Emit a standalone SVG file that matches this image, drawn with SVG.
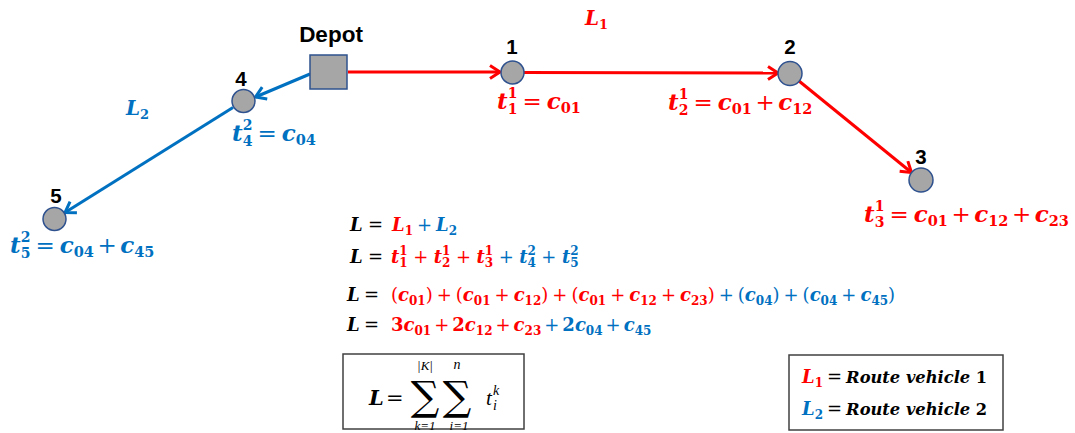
<svg xmlns="http://www.w3.org/2000/svg" width="1075" height="433" viewBox="0 0 1075 433">
<defs>
<style>
.m{font-family:"DejaVu Serif",serif;font-weight:bold;font-style:italic}
.n{font-style:normal}
.o{font-style:normal;font-weight:normal}
.r{fill:#ff0000}
.b{fill:#0070c0}
.k{fill:#000}
.lbl{font-family:"Liberation Sans",Arial,sans-serif;font-weight:bold;fill:#000;text-anchor:middle}
.nd{fill:#a6a6a6;stroke:#2f528f;stroke-width:1.5}
.er{stroke:#ff0000;stroke-width:3;fill:none}
.eb{stroke:#0070c0;stroke-width:3;fill:none}
.box{fill:#fff;stroke:#404040;stroke-width:1.5}
.lim{font-family:"Liberation Serif",serif;font-style:italic;fill:#000}
.sig{font-family:"DejaVu Serif","DejaVu Sans",serif;fill:#000;text-anchor:middle}
</style>
<marker id="ar" markerUnits="userSpaceOnUse" markerWidth="16" markerHeight="16" refX="13" refY="8" orient="auto"><path d="M3,1.5 L13,8 L3,14.5" fill="none" stroke="#ff0000" stroke-width="3"/></marker>
<marker id="ab" markerUnits="userSpaceOnUse" markerWidth="16" markerHeight="16" refX="13" refY="8" orient="auto"><path d="M3,1.5 L13,8 L3,14.5" fill="none" stroke="#0070c0" stroke-width="3"/></marker>
</defs>
<rect width="1075" height="433" fill="#fff"/>

<g id="connectors">
<line class="er" x1="348" y1="72" x2="500" y2="72" marker-end="url(#ar)"/>
<line class="er" x1="524" y1="72.5" x2="778" y2="73" marker-end="url(#ar)"/>
<line class="er" x1="799" y1="81" x2="911.5" y2="172.5" marker-end="url(#ar)"/>
<line class="eb" x1="310" y1="74" x2="255.5" y2="97" marker-end="url(#ab)"/>
<line class="eb" x1="233" y1="107.5" x2="65" y2="212.5" marker-end="url(#ab)"/>
</g>

<g id="labels-routes">
<text class="m r" font-size="20" x="585" y="25">L<tspan class="n" font-size="13" dy="4">1</tspan></text>
<text class="m b" font-size="20" x="126" y="115">L<tspan class="n" font-size="13" dy="4">2</tspan></text>
</g>

<g id="depot">
<rect x="310" y="55" width="37" height="34" class="nd"/>
<text class="lbl" font-size="22.5" x="331" y="42">Depot</text>
</g>

<g id="node1">
<circle cx="512.5" cy="72.5" r="11.5" class="nd"/>
<text class="lbl" font-size="20.5" x="512" y="54">1</text>
<text class="m r" font-size="23" x="497" y="109">t<tspan class="n" font-size="14" dy="4.5">1</tspan><tspan class="n" font-size="14" dx="-9.7" dy="-16">1</tspan><tspan class="o" dx="5" dy="11.5">=</tspan><tspan dx="5">c</tspan><tspan class="n" font-size="14.5" dy="4">01</tspan></text>
</g>

<g id="node2">
<circle cx="790" cy="73.5" r="12" class="nd"/>
<text class="lbl" font-size="20.5" x="790" y="54">2</text>
<text class="m r" font-size="23" x="668" y="110">t<tspan class="n" font-size="14" dy="4.5">2</tspan><tspan class="n" font-size="14" dx="-9.7" dy="-16">1</tspan><tspan class="o" dx="5" dy="11.5">=</tspan><tspan dx="5">c</tspan><tspan class="n" font-size="14.5" dy="4">01</tspan><tspan class="o" dx="3.5" dy="-4">+</tspan><tspan dx="3.5">c</tspan><tspan class="n" font-size="14.5" dy="4">12</tspan></text>
</g>

<g id="node3">
<circle cx="921" cy="180" r="12" class="nd"/>
<text class="lbl" font-size="20.5" x="921" y="164">3</text>
<text class="m r" font-size="23" x="864" y="222">t<tspan class="n" font-size="14" dy="4.5">3</tspan><tspan class="n" font-size="14" dx="-9.7" dy="-16">1</tspan><tspan class="o" dx="5" dy="11.5">=</tspan><tspan dx="5">c</tspan><tspan class="n" font-size="14.5" dy="4">01</tspan><tspan class="o" dx="3.5" dy="-4">+</tspan><tspan dx="3.5">c</tspan><tspan class="n" font-size="14.5" dy="4">12</tspan><tspan class="o" dx="3.5" dy="-4">+</tspan><tspan dx="3.5">c</tspan><tspan class="n" font-size="14.5" dy="4">23</tspan></text>
</g>

<g id="node4">
<circle cx="243.5" cy="101" r="11.5" class="nd"/>
<text class="lbl" font-size="20.5" x="241" y="86">4</text>
<text class="m b" font-size="23" x="232" y="141">t<tspan class="n" font-size="14" dy="4.5">4</tspan><tspan class="n" font-size="14" dx="-9.7" dy="-16">2</tspan><tspan class="o" dx="5" dy="11.5">=</tspan><tspan dx="5">c</tspan><tspan class="n" font-size="14.5" dy="4">04</tspan></text>
</g>

<g id="node5">
<circle cx="54.5" cy="219" r="11.5" class="nd"/>
<text class="lbl" font-size="20.5" x="56" y="203">5</text>
<text class="m b" font-size="23" x="10" y="253">t<tspan class="n" font-size="14" dy="4.5">5</tspan><tspan class="n" font-size="14" dx="-9.7" dy="-16">2</tspan><tspan class="o" dx="5" dy="11.5">=</tspan><tspan dx="5">c</tspan><tspan class="n" font-size="14.5" dy="4">04</tspan><tspan class="o" dx="3.5" dy="-4">+</tspan><tspan dx="3.5">c</tspan><tspan class="n" font-size="14.5" dy="4">45</tspan></text>
</g>

<g id="equations">
<text class="m" font-size="18" y="231"><tspan class="k" x="350">L</tspan><tspan class="o k" x="368">=</tspan><tspan class="r" x="392">L</tspan><tspan class="n r" font-size="12" dy="4">1</tspan><tspan class="o b" dx="4" dy="-4">+</tspan><tspan class="b" dx="4">L</tspan><tspan class="n b" font-size="12" dy="4">2</tspan></text>
<text class="m" font-size="18" y="263"><tspan class="k" x="350">L</tspan><tspan class="o k" x="368">=</tspan><tspan class="r" x="391">t</tspan><tspan class="n r" font-size="12" dy="4">1</tspan><tspan class="n r" font-size="12" dx="-8.4" dy="-12">1</tspan><tspan class="o r" dx="5.5" dy="8">+</tspan><tspan class="r" dx="5.5">t</tspan><tspan class="n r" font-size="12" dy="4">2</tspan><tspan class="n r" font-size="12" dx="-8.4" dy="-12">1</tspan><tspan class="o r" dx="5.5" dy="8">+</tspan><tspan class="r" dx="5.5">t</tspan><tspan class="n r" font-size="12" dy="4">3</tspan><tspan class="n r" font-size="12" dx="-8.4" dy="-12">1</tspan><tspan class="o b" dx="5.5" dy="8">+</tspan><tspan class="b" dx="5.5">t</tspan><tspan class="n b" font-size="12" dy="4">4</tspan><tspan class="n b" font-size="12" dx="-8.4" dy="-12">2</tspan><tspan class="o b" dx="5.5" dy="8">+</tspan><tspan class="b" dx="5.5">t</tspan><tspan class="n b" font-size="12" dy="4">5</tspan><tspan class="n b" font-size="12" dx="-8.4" dy="-12">2</tspan></text>
<text class="m" font-size="18" y="301"><tspan class="k" x="347">L</tspan><tspan class="o k" x="364">=</tspan><tspan class="o r" x="391">(</tspan><tspan class="r">c</tspan><tspan class="n r" font-size="12" dy="4">01</tspan><tspan class="o r" dy="-4">)</tspan><tspan class="o r" dx="4">+</tspan><tspan class="o r" dx="4">(</tspan><tspan class="r">c</tspan><tspan class="n r" font-size="12" dy="4">01</tspan><tspan class="o r" dx="4" dy="-4">+</tspan><tspan class="r" dx="4">c</tspan><tspan class="n r" font-size="12" dy="4">12</tspan><tspan class="o r" dy="-4">)</tspan><tspan class="o r" dx="4">+</tspan><tspan class="o r" dx="4">(</tspan><tspan class="r">c</tspan><tspan class="n r" font-size="12" dy="4">01</tspan><tspan class="o r" dx="4" dy="-4">+</tspan><tspan class="r" dx="4">c</tspan><tspan class="n r" font-size="12" dy="4">12</tspan><tspan class="o r" dx="4" dy="-4">+</tspan><tspan class="r" dx="4">c</tspan><tspan class="n r" font-size="12" dy="4">23</tspan><tspan class="o r" dy="-4">)</tspan><tspan class="o b" dx="4">+</tspan><tspan class="o b" dx="4">(</tspan><tspan class="b">c</tspan><tspan class="n b" font-size="12" dy="4">04</tspan><tspan class="o b" dy="-4">)</tspan><tspan class="o b" dx="4">+</tspan><tspan class="o b" dx="4">(</tspan><tspan class="b">c</tspan><tspan class="n b" font-size="12" dy="4">04</tspan><tspan class="o b" dx="4" dy="-4">+</tspan><tspan class="b" dx="4">c</tspan><tspan class="n b" font-size="12" dy="4">45</tspan><tspan class="o b" dy="-4">)</tspan></text>
<text class="m" font-size="18" y="331"><tspan class="k" x="347">L</tspan><tspan class="o k" x="364">=</tspan><tspan class="n r" x="391">3</tspan><tspan class="r">c</tspan><tspan class="n r" font-size="12" dy="4">01</tspan><tspan class="o r" dx="3" dy="-4">+</tspan><tspan class="n r" dx="3">2</tspan><tspan class="r">c</tspan><tspan class="n r" font-size="12" dy="4">12</tspan><tspan class="o r" dx="3" dy="-4">+</tspan><tspan class="r" dx="3">c</tspan><tspan class="n r" font-size="12" dy="4">23</tspan><tspan class="o b" dx="3" dy="-4">+</tspan><tspan class="n b" dx="3">2</tspan><tspan class="b">c</tspan><tspan class="n b" font-size="12" dy="4">04</tspan><tspan class="o b" dx="3" dy="-4">+</tspan><tspan class="b" dx="3">c</tspan><tspan class="n b" font-size="12" dy="4">45</tspan></text>
</g>

<g id="sum-formula">
<rect class="box" x="343" y="354" width="181" height="75"/>
<text class="m k" font-size="21" x="369" y="405">L</text>
<text class="o k" font-family="DejaVu Serif, serif" font-size="21" x="386" y="405">=</text>
<text class="sig" font-size="40" x="425" y="410">∑</text>
<text class="sig" font-size="40" x="457" y="410">∑</text>
<text class="lim" font-size="13" x="425" y="370" text-anchor="middle">|K|</text>
<text class="lim" font-size="14" x="457" y="369" text-anchor="middle">n</text>
<text class="lim" font-size="13" x="425" y="430" text-anchor="middle">k=1</text>
<text class="lim" font-size="13" x="459" y="430" text-anchor="middle">i=1</text>
<text class="lim" font-size="21" x="486" y="405">t</text>
<text class="lim" font-size="14" x="493" y="395">k</text>
<text class="lim" font-size="14" x="493" y="410">i</text>
</g>

<g id="legend">
<rect class="box" x="789" y="355" width="214" height="75"/>
<text class="m" font-size="18" x="802" y="383"><tspan class="r">L</tspan><tspan class="n r" font-size="12" dy="4">1</tspan><tspan class="o k" dx="4" dy="-4">=</tspan><tspan class="k" dx="4" font-size="16.3">Route vehicle </tspan><tspan class="n k" font-size="16.3">1</tspan></text>
<text class="m" font-size="18" x="802" y="415"><tspan class="b">L</tspan><tspan class="n b" font-size="12" dy="4">2</tspan><tspan class="o k" dx="4" dy="-4">=</tspan><tspan class="k" dx="4" font-size="16.3">Route vehicle </tspan><tspan class="n k" font-size="16.3">2</tspan></text>
</g>
</svg>
